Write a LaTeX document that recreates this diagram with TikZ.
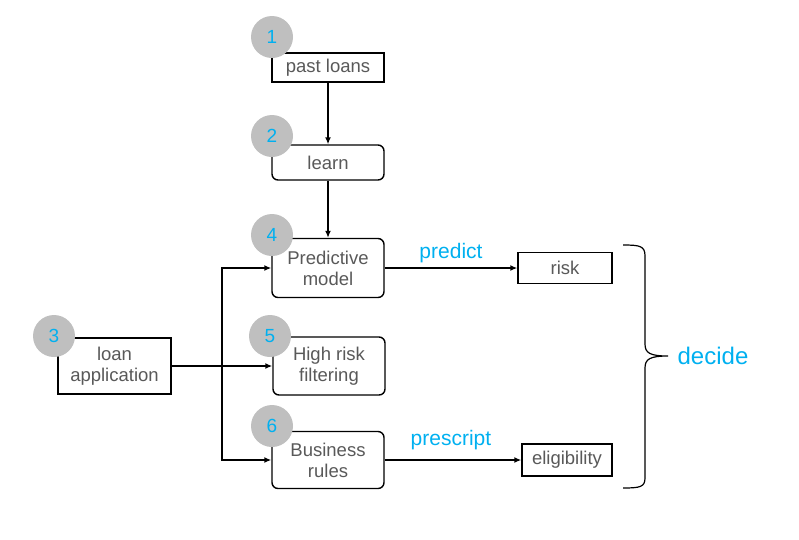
\documentclass[tikz,border=0pt]{standalone}
\usepackage{fontspec}
\setmainfont{Liberation Sans}
\usetikzlibrary{arrows.meta,positioning}
\definecolor{txtgray}{HTML}{595959}
\definecolor{stepcyan}{HTML}{00B0F0}
\definecolor{dotgray}{HTML}{BFBFBF}
\tikzset{
  sqbox/.style={draw=black,fill=white,line width=1.4pt,inner sep=0pt,
                align=center,font=\fontsize{18.5}{21}\selectfont,text=txtgray},
  rdbox/.style={sqbox,rounded corners=6pt},
  numdot/.style={circle,fill=dotgray,minimum size=42pt,inner sep=0pt,
                 font=\fontsize{19}{21}\selectfont,text=stepcyan},
  cyanlbl/.style={font=\fontsize{21}{24}\selectfont,text=stepcyan},
  flowarr/.style={-{Latex[length=7pt,width=6pt]},line width=1.4pt}
}

\begin{document}
\begin{tikzpicture}[x=1pt,y=-1pt]
  \useasboundingbox (0,0) rectangle (799,539);

  % boxes
  \node[sqbox,minimum width=112pt,minimum height=29pt] (past) at (328,67.5) {past loans};
  \node[rdbox,minimum width=112pt,minimum height=35pt] (learn) at (328,162.5) {learn};
  \node[rdbox,minimum width=112pt,minimum height=59pt] (pred) at (328,268) {Predictive\\model};
  \node[rdbox,minimum width=112pt,minimum height=58pt] (hirisk) at (329,366) {High risk\\filtering};
  \node[rdbox,minimum width=112pt,minimum height=57pt] (biz) at (328,460) {Business\\rules};
  \node[sqbox,minimum width=113pt,minimum height=56pt] (app) at (114.5,366) {loan\\application};
  \node[sqbox,minimum width=94pt,minimum height=31pt] (risk) at (565,268) {risk};
  \node[sqbox,minimum width=90pt,minimum height=32pt] (elig) at (567,460) {eligibility};

  % step numbers
  \node[numdot] (n1) at (272,37) {1};
  \node[numdot] (n2) at (272,136) {2};
  \node[numdot] (n3) at (54,336) {3};
  \node[numdot] (n4) at (272,235) {4};
  \node[numdot] (n5) at (270,336) {5};
  \node[numdot] (n6) at (272,426) {6};

  % connectors
  \coordinate (split) at (222,366);
  \draw[flowarr] (past) -- (learn);
  \draw[flowarr] (learn) -- (pred);
  \draw[line width=1.4pt] (app) -- (split);
  \draw[flowarr] (split) |- (pred.west);
  \draw[flowarr] (split) -- (hirisk);
  \draw[flowarr] (split) |- (biz.west);
  \draw[flowarr] (pred) -- (risk);
  \draw[flowarr] (biz) -- (elig);

  \node[cyanlbl] (predlbl) at (451,253) {predict};
  \node[cyanlbl] (preslbl) at (451,440) {prescript};

  % brace
  \draw[line width=1.2pt] (623,245) .. controls (640,245) and (645,246) .. (645,256)
    -- (645,344) .. controls (645,353) and (650,356) .. (668,356)
    .. controls (650,356) and (645,359) .. (645,368)
    -- (645,478) .. controls (645,487) and (640,488) .. (623,488);
  \node[font=\fontsize{24}{28}\selectfont,text=stepcyan] (decide) at (713,356) {decide};
\end{tikzpicture}
\end{document}
